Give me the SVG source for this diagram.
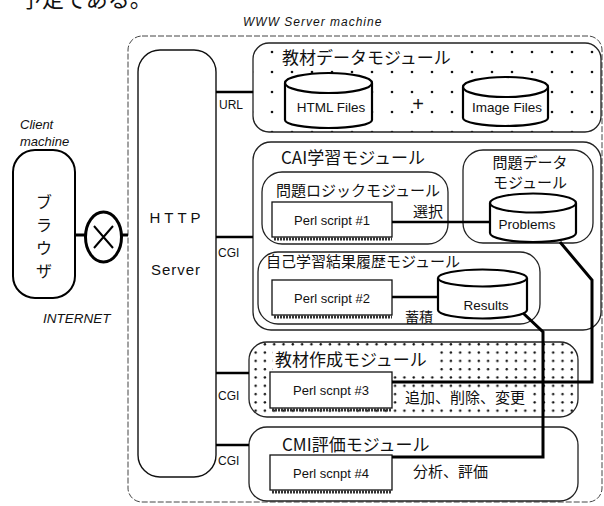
<svg xmlns="http://www.w3.org/2000/svg" width="604" height="506" viewBox="0 0 604 506">
<defs>
<pattern id="dotsSparse" patternUnits="userSpaceOnUse" x="2" y="2" width="20" height="20">
<circle cx="10" cy="10" r="1.3" fill="#111"/>
</pattern>
<pattern id="dotsDense" patternUnits="userSpaceOnUse" x="0" y="0" width="9.3" height="8.3">
<circle cx="4.5" cy="4" r="1.2" fill="#111"/>
</pattern>
</defs>
<style>
.jp{font-family:"Noto Sans CJK JP","Noto Sans",sans-serif;fill:#111}
.en{font-family:"Liberation Sans",Arial,sans-serif;fill:#111}
.it{font-family:"Liberation Sans",Arial,sans-serif;font-style:italic;fill:#111}
.mod{fill:none;stroke:#222;stroke-width:1.3}
.box{fill:#fff;stroke:#111;stroke-width:1.3}
.shadow{fill:none;stroke:#333;stroke-width:3;stroke-dasharray:2 1}
.cyl{fill:#fff;stroke:#000;stroke-width:2.2}
.conn{fill:none;stroke:#000;stroke-width:2.5}
.thick{fill:none;stroke:#000;stroke-width:3}
</style>
<rect width="604" height="506" fill="#fff"/>

<text class="jp" x="20" y="7" font-size="22">予定である。</text>
<text class="it" x="243" y="26" font-size="12" letter-spacing="1">WWW  Server  machine</text>

<g id="server-machine">
<rect x="128" y="36" width="474" height="466" rx="14" fill="none" stroke="#444" stroke-width="1" stroke-dasharray="6 2"/>
</g>

<g id="client">
<text class="it" x="20" y="129" font-size="13">Client</text>
<text class="it" x="20" y="146" font-size="13">machine</text>
</g>

<g id="browser">
<rect x="13" y="150" width="62" height="148" rx="22" fill="#fff" stroke="#000" stroke-width="2"/>
<text class="jp" x="44" y="208" font-size="16" text-anchor="middle">ブ</text>
<text class="jp" x="44" y="231" font-size="16" text-anchor="middle">ラ</text>
<text class="jp" x="44" y="254" font-size="16" text-anchor="middle">ウ</text>
<text class="jp" x="44" y="277" font-size="16" text-anchor="middle">ザ</text>
</g>

<g id="internet">
<ellipse cx="103.5" cy="237" rx="18" ry="25" fill="#fff" stroke="#000" stroke-width="3"/>
<path d="M94 226 L113 248 M113 226 L94 248" stroke="#000" stroke-width="2" fill="none"/>
<text class="it" x="43" y="323" font-size="13.5">INTERNET</text>
</g>

<g id="http-server">
<rect x="138" y="50" width="78" height="427" rx="22" fill="#fff" stroke="#111" stroke-width="1.4"/>
<text class="en" x="177" y="223" font-size="15" text-anchor="middle" letter-spacing="4">HTTP</text>
<text class="en" x="176" y="275" font-size="15" text-anchor="middle" letter-spacing="1">Server</text>
</g>

<g id="kyozai-data">
<rect x="253" y="43" width="348" height="89" rx="16" fill="url(#dotsSparse)" stroke="#222" stroke-width="1.3"/>
<rect x="276" y="48" width="190" height="22" fill="#fff"/>
<text class="jp" x="282" y="64" font-size="17">教材データモジュール</text>
<text class="en" x="418" y="111" font-size="20" text-anchor="middle">+</text>
</g>

<g id="html-files">
<path class="cyl" d="M285 83 V120 A43.5 8 0 0 0 372 120 V83"/>
<ellipse class="cyl" cx="328.5" cy="83" rx="43.5" ry="10"/>
<text class="en" x="331" y="112" font-size="13.5" text-anchor="middle">HTML Files</text>
</g>

<g id="image-files">
<path class="cyl" d="M463 87 V118 A42.5 8 0 0 0 548 118 V87"/>
<ellipse class="cyl" cx="505.5" cy="87" rx="42.5" ry="10"/>
<text class="en" x="507" y="112" font-size="13.5" text-anchor="middle">Image Files</text>
</g>

<g id="cai">
<rect class="mod" x="253" y="142" width="348" height="188" rx="18"/>
<text class="jp" x="281" y="164" font-size="17">CAI学習モジュール</text>
</g>

<g id="mondai-logic">
<rect class="mod" x="262" y="172" width="186" height="72" rx="20"/>
<text class="jp" x="276" y="196" font-size="15">問題ロジックモジュール</text>
<text class="jp" x="413" y="217" font-size="15">選択</text>
</g>

<g id="perl1">
<line class="shadow" x1="274" y1="239" x2="392" y2="239"/>
<rect class="box" x="272" y="202" width="120" height="35"/>
<text class="en" x="332" y="225" font-size="13" text-anchor="middle">Perl script #1</text>
</g>

<g id="mondai-data">
<rect class="mod" x="463" y="150" width="130" height="93" rx="20"/>
<text class="jp" x="530" y="168" font-size="15" text-anchor="middle">問題データ</text>
<text class="jp" x="530" y="188" font-size="15" text-anchor="middle">モジュール</text>
</g>

<g id="problems">
<path class="cyl" d="M490 203 V233 A43 9 0 0 0 576 233 V203"/>
<ellipse class="cyl" cx="533" cy="203" rx="43" ry="9.5"/>
<text class="en" x="527" y="229" font-size="13.5" text-anchor="middle">Problems</text>
</g>

<g id="jiko">
<rect class="mod" x="258" y="252" width="282" height="72" rx="20"/>
<text class="jp" x="266" y="267" font-size="15">自己学習結果履歴モジュール</text>
<text class="jp" x="405" y="322" font-size="14">蓄積</text>
</g>

<g id="perl2">
<line class="shadow" x1="274" y1="317" x2="392" y2="317"/>
<rect class="box" x="272" y="280" width="120" height="35"/>
<text class="en" x="332" y="303" font-size="13" text-anchor="middle">Perl script #2</text>
</g>

<g id="results">
<path class="cyl" d="M438 278 V310 A44.5 8.5 0 0 0 527 310 V278"/>
<ellipse class="cyl" cx="482.5" cy="278" rx="44.5" ry="8.5"/>
<text class="en" x="486" y="310" font-size="13.5" text-anchor="middle">Results</text>
</g>

<g id="kyozai-sakusei">
<rect x="249" y="342" width="329" height="75" rx="18" fill="url(#dotsDense)" stroke="#222" stroke-width="1.3"/>
<rect x="273" y="350" width="162" height="21" fill="#fff"/>
<rect x="402" y="389" width="128" height="19" fill="#fff"/>
<text class="jp" x="275" y="366" font-size="17">教材作成モジュール</text>
<text class="jp" x="405" y="403" font-size="15">追加、削除、変更</text>
</g>

<g id="perl3">
<line class="shadow" x1="272" y1="410" x2="392" y2="410"/>
<rect class="box" x="270" y="372" width="122" height="36"/>
<text class="en" x="331" y="395" font-size="13" text-anchor="middle">Perl scnpt #3</text>
</g>

<g id="cmi">
<rect class="mod" x="249" y="427" width="329" height="74" rx="18"/>
<text class="jp" x="282" y="451" font-size="17">CMI評価モジュール</text>
<text class="jp" x="413" y="477" font-size="15">分析、評価</text>
</g>

<g id="perl4">
<line class="shadow" x1="272" y1="492" x2="392" y2="492"/>
<rect class="box" x="270" y="455" width="122" height="35"/>
<text class="en" x="331" y="478" font-size="13" text-anchor="middle">Perl scnpt #4</text>
</g>

<g id="connectors">
<line class="thick" x1="75" y1="235" x2="85.5" y2="235"/>
<line class="thick" x1="121.5" y1="235" x2="128" y2="235"/>
<line class="conn" x1="216" y1="92" x2="253" y2="92"/>
<line class="conn" x1="216" y1="237" x2="253" y2="237"/>
<line class="conn" x1="216" y1="373" x2="249" y2="373"/>
<line class="conn" x1="216" y1="445" x2="249" y2="445"/>
<line class="conn" x1="392" y1="222" x2="490" y2="222"/>
<line class="conn" x1="392" y1="297" x2="438" y2="297"/>
<polyline class="thick" points="560,242 592,280 592,382 392,382"/>
<polyline class="thick" points="523,313 543,332 543,457 392,457"/>
<text class="en" x="219" y="109" font-size="12">URL</text>
<text class="en" x="218" y="257" font-size="12">CGI</text>
<text class="en" x="218" y="400" font-size="12">CGI</text>
<text class="en" x="218" y="465" font-size="12">CGI</text>
</g>
</svg>
